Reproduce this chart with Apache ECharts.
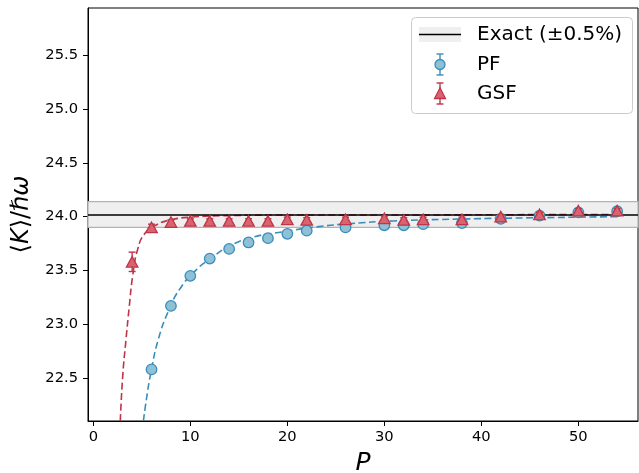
<!DOCTYPE html>
<html>
<head>
<meta charset="utf-8">
<script src="https://cdn.jsdelivr.net/npm/echarts@6/dist/echarts.min.js"></script>
<style>
  html, body { margin: 0; padding: 0; background: #fff; }
  #chart { width: 639px; height: 473px; }
</style>
</head>
<body>
<div id="chart"></div>
<script>
// Kinetic energy estimate <K>/hbar*omega versus number of beads P
const pPF   = [6, 8, 10, 12, 14, 16, 18, 20, 22, 26, 30, 32, 34, 38, 42, 46, 50, 54];
const kPF   = [22.58, 23.17, 23.45, 23.61, 23.70, 23.76, 23.80, 23.84, 23.87, 23.90, 23.92, 23.92, 23.93, 23.94, 23.98, 24.01, 24.04, 24.05];
const errPF = [0.03, 0.02, 0.02, 0.02, 0.02, 0.02, 0.02, 0.02, 0.02, 0.02, 0.02, 0.02, 0.02, 0.02, 0.02, 0.02, 0.02, 0.02];

const pGSF   = [4, 6, 8, 10, 12, 14, 16, 18, 20, 22, 26, 30, 32, 34, 38, 42, 46, 50, 54];
const kGSF   = [23.58, 23.90, 23.95, 23.96, 23.96, 23.96, 23.96, 23.96, 23.975, 23.97, 23.975, 23.985, 23.97, 23.975, 23.975, 24.00, 24.02, 24.055, 24.055];
const errGSF = [0.09, 0.03, 0.02, 0.02, 0.02, 0.02, 0.02, 0.02, 0.02, 0.02, 0.02, 0.02, 0.02, 0.02, 0.02, 0.02, 0.02, 0.02, 0.02];

// Fitted convergence curves (dashed)
const fitPF_P = [5.16, 5.5, 5.91, 6.7, 7.73, 8.93, 10.66, 12.0, 14.0, 16.5, 19.6, 23.0, 26.5, 30.9, 38, 46, 54];
const fitPF_K = [22.10, 22.32, 22.54, 22.86, 23.12, 23.33, 23.51, 23.605, 23.725, 23.81, 23.86, 23.905, 23.935, 23.96, 23.978, 23.99, 24.0];
const fitGSF_P = [2.78, 3.03, 3.37, 3.71, 4.06, 4.58, 5.33, 6.53, 8, 10, 14, 20, 30, 42, 54];
const fitGSF_K = [22.10, 22.52, 22.86, 23.17, 23.45, 23.70, 23.845, 23.925, 23.97, 23.995, 24.01, 24.015, 24.015, 24.018, 24.02];

// Exact value and its +/-0.5% band
const exactK = 24.02;
const bandFrac = 0.005;

const xTicks = [0, 10, 20, 30, 40, 50];
const yTicks = [22.5, 23.0, 23.5, 24.0, 24.5, 25.0, 25.5];

const BLUE_EDGE = '#3a8dba', BLUE_FACE = '#8fc1d6';
const RED_EDGE = '#bf3447', RED_FACE = '#d9636f';
const FONT = 'DejaVu Sans';

const zip = (a, b, c) => a.map((v, i) => c ? [v, b[i], c[i]] : [v, b[i]]);

function errorBars(color) {
  return function (params, api) {
    const x = api.value(0), y = api.value(1), e = api.value(2);
    const top = api.coord([x, y + e]);
    const bot = api.coord([x, y - e]);
    const hw = 3.5;
    const style = { stroke: color, lineWidth: 1.4 };
    return {
      type: 'group',
      children: [
        { type: 'line', shape: { x1: top[0], y1: top[1], x2: bot[0], y2: bot[1] }, style },
        { type: 'line', shape: { x1: top[0] - hw, y1: top[1], x2: top[0] + hw, y2: top[1] }, style },
        { type: 'line', shape: { x1: bot[0] - hw, y1: bot[1], x2: bot[0] + hw, y2: bot[1] }, style }
      ]
    };
  };
}

const chart = echarts.init(document.getElementById('chart'), null, { renderer: 'canvas' });

const lx = 440; // legend handle centre
const legendGraphic = [
  { type: 'rect', shape: { x: 411.5, y: 17.5, width: 221, height: 96, r: 4 },
    style: { fill: 'rgba(255,255,255,0.8)', stroke: '#cccccc', lineWidth: 1 }, z: 100 },
  { type: 'rect', shape: { x: 419, y: 27, width: 42, height: 15 }, style: { fill: '#efefef' }, z: 101 },
  { type: 'line', shape: { x1: 419, y1: 34.5, x2: 461, y2: 34.5 }, style: { stroke: '#000', lineWidth: 1.5 }, z: 102 },
  { type: 'line', shape: { x1: lx, y1: 54, x2: lx, y2: 75 }, style: { stroke: BLUE_EDGE, lineWidth: 1.4 }, z: 101 },
  { type: 'line', shape: { x1: lx - 3.5, y1: 54, x2: lx + 3.5, y2: 54 }, style: { stroke: BLUE_EDGE, lineWidth: 1.4 }, z: 101 },
  { type: 'line', shape: { x1: lx - 3.5, y1: 75, x2: lx + 3.5, y2: 75 }, style: { stroke: BLUE_EDGE, lineWidth: 1.4 }, z: 101 },
  { type: 'circle', shape: { cx: lx, cy: 64.5, r: 5 }, style: { fill: BLUE_FACE, stroke: BLUE_EDGE, lineWidth: 1.3 }, z: 102 },
  { type: 'line', shape: { x1: lx, y1: 83, x2: lx, y2: 104 }, style: { stroke: RED_EDGE, lineWidth: 1.4 }, z: 101 },
  { type: 'line', shape: { x1: lx - 3.5, y1: 83, x2: lx + 3.5, y2: 83 }, style: { stroke: RED_EDGE, lineWidth: 1.4 }, z: 101 },
  { type: 'line', shape: { x1: lx - 3.5, y1: 104, x2: lx + 3.5, y2: 104 }, style: { stroke: RED_EDGE, lineWidth: 1.4 }, z: 101 },
  { type: 'polygon', shape: { points: [[lx, 88], [lx - 5.5, 98.5], [lx + 5.5, 98.5]] },
    style: { fill: RED_FACE, stroke: RED_EDGE, lineWidth: 1.3 }, z: 102 },
  { type: 'text', x: 477, y: 34.5, style: { text: 'Exact (±0.5%)', font: '20px "DejaVu Sans"', fill: '#000', verticalAlign: 'middle' }, z: 103 },
  { type: 'text', x: 477, y: 65, style: { text: 'PF', font: '20px "DejaVu Sans"', fill: '#000', verticalAlign: 'middle' }, z: 103 },
  { type: 'text', x: 477, y: 93.5, style: { text: 'GSF', font: '20px "DejaVu Sans"', fill: '#000', verticalAlign: 'middle' }, z: 103 }
];

chart.setOption({
  animation: false,
  backgroundColor: '#fff',
  textStyle: { fontFamily: FONT },
  grid: { left: 88, right: 1, top: 8, bottom: 52, outerBoundsMode: 'none', containLabel: false,
    show: true, borderColor: '#000', borderWidth: 1, backgroundColor: 'transparent' },
  xAxis: {
    type: 'value', min: -0.55, max: 56.15,
    name: 'P', nameLocation: 'middle', nameGap: 30,
    nameTextStyle: { fontFamily: FONT, fontStyle: 'italic', fontSize: 25, color: '#000' },
    axisLine: { show: true, onZero: false, lineStyle: { color: '#000', width: 1 } },
    axisTick: { show: true, length: 5, customValues: xTicks, lineStyle: { color: '#000', width: 1 } },
    axisLabel: { customValues: xTicks, margin: 9, fontSize: 14.7, color: '#000', fontFamily: FONT },
    splitLine: { show: false }
  },
  yAxis: {
    type: 'value', min: 22.10, max: 25.94,
    name: '{a|⟨}{i|K}{a|⟩/}{i|ℏω}', nameLocation: 'middle', nameGap: 54, nameRotate: 90,
    nameTextStyle: {
      fontFamily: FONT, fontSize: 24, color: '#000',
      rich: {
        a: { fontFamily: FONT, fontSize: 24, color: '#000' },
        i: { fontFamily: FONT, fontSize: 24, color: '#000', fontStyle: 'italic' }
      }
    },
    axisLine: { show: true, onZero: false, lineStyle: { color: '#000', width: 1 } },
    axisTick: { show: true, length: 5, customValues: yTicks, lineStyle: { color: '#000', width: 1 } },
    axisLabel: { customValues: yTicks, margin: 10, fontSize: 14.7, color: '#000', fontFamily: FONT,
      formatter: v => v.toFixed(1) },
    splitLine: { show: false }
  },
  graphic: legendGraphic,
  series: [
    {
      name: 'Exact', type: 'line', data: [], silent: true, z: 1,
      markArea: {
        silent: true,
        itemStyle: { color: '#efefef', borderColor: '#b3b3b3', borderWidth: 1.2 },
        data: [[{ yAxis: exactK * (1 - bandFrac) }, { yAxis: exactK * (1 + bandFrac) }]]
      },
      markLine: {
        silent: true, symbol: ['none', 'none'], label: { show: false },
        lineStyle: { color: '#000', width: 1.5, type: 'solid' },
        data: [{ yAxis: exactK }]
      }
    },
    {
      name: 'PF fit', type: 'line', data: zip(fitPF_P, fitPF_K), showSymbol: false, smooth: true,
      clip: true, z: 3, lineStyle: { color: BLUE_EDGE, width: 1.6, type: [7, 3.5] }
    },
    {
      name: 'GSF fit', type: 'line', data: zip(fitGSF_P, fitGSF_K), showSymbol: false, smooth: true,
      clip: true, z: 3, lineStyle: { color: RED_EDGE, width: 1.6, type: [7, 3.5] }
    },
    {
      name: 'PF err', type: 'custom', renderItem: errorBars(BLUE_EDGE), data: zip(pPF, kPF, errPF), z: 4, clip: true
    },
    {
      name: 'PF', type: 'scatter', data: zip(pPF, kPF), symbol: 'circle', symbolSize: 10.5, z: 5,
      itemStyle: { color: BLUE_FACE, borderColor: BLUE_EDGE, borderWidth: 1.3, opacity: 1 }
    },
    {
      name: 'GSF err', type: 'custom', renderItem: errorBars(RED_EDGE), data: zip(pGSF, kGSF, errGSF), z: 6, clip: true
    },
    {
      name: 'GSF', type: 'scatter', data: zip(pGSF, kGSF), symbol: 'triangle', symbolSize: [11.5, 10.5], z: 7,
      itemStyle: { color: RED_FACE, borderColor: RED_EDGE, borderWidth: 1.3, opacity: 1 }
    }
  ]
});
</script>
</body>
</html>
